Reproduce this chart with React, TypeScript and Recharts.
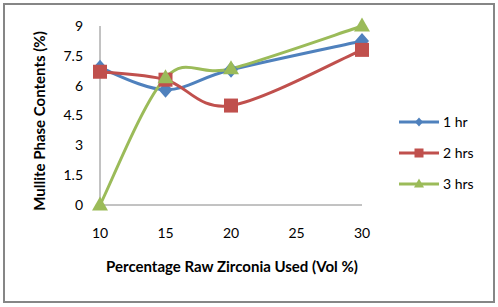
import React from 'react';
import { LineChart, Line, XAxis, YAxis } from 'recharts';

const xValues = [10, 15, 20, 30];
const hr1 = [6.9, 5.8, 6.8, 8.25];
const hrs2 = [6.7, 6.3, 5.0, 7.8];
const hrs3 = [0, 6.4, 6.85, 9.0];
const xTicks = [10, 15, 20, 25, 30];
const yTicks = [0, 1.5, 3, 4.5, 6, 7.5, 9];
const seriesNames = ['1 hr', '2 hrs', '3 hrs'];

const data = xValues.map((x, i) => ({ x, hr1: hr1[i], hrs2: hrs2[i], hrs3: hrs3[i] }));

const BLUE = '#4F81BD';
const RED = '#C0504D';
const GREEN = '#9BBB59';
const FONT = 'Lato, "Liberation Sans", sans-serif';

// Excel-like smoothed curve (Catmull-Rom bezier)
function smoothCurve(context: any) {
  let pts: number[][] = [];
  return {
    areaStart() {},
    areaEnd() {},
    lineStart() {
      pts = [];
    },
    point(x: number, y: number) {
      pts.push([+x, +y]);
    },
    lineEnd() {
      const n = pts.length;
      if (!n) return;
      context.moveTo(pts[0][0], pts[0][1]);
      for (let i = 0; i < n - 1; i++) {
        const p0 = pts[Math.max(0, i - 1)];
        const p1 = pts[i];
        const p2 = pts[i + 1];
        const p3 = pts[Math.min(n - 1, i + 2)];
        context.bezierCurveTo(
          p1[0] + (p2[0] - p0[0]) / 6,
          p1[1] + (p2[1] - p0[1]) / 6,
          p2[0] - (p3[0] - p1[0]) / 6,
          p2[1] - (p3[1] - p1[1]) / 6,
          p2[0],
          p2[1]
        );
      }
    },
  };
}

const Diamond = ({ cx, cy, color, w = 7, h = 8 }: any) => (
  <polygon points={`${cx},${cy - h} ${cx + w},${cy} ${cx},${cy + h} ${cx - w},${cy}`} fill={color} />
);
const Square = ({ cx, cy, color, s = 7 }: any) => (
  <rect x={cx - s} y={cy - s} width={2 * s} height={2 * s} fill={color} />
);
const Triangle = ({ cx, cy, color, w = 8, h = 14 }: any) => (
  <polygon points={`${cx},${cy - h * 0.6} ${cx + w},${cy + h * 0.4} ${cx - w},${cy + h * 0.4}`} fill={color} />
);

const dotDiamond = (p: any) => <Diamond key={`d${p.index}`} cx={p.cx} cy={p.cy} color={BLUE} />;
const dotSquare = (p: any) => <Square key={`s${p.index}`} cx={p.cx} cy={p.cy} color={RED} />;
const dotTriangle = (p: any) => <Triangle key={`t${p.index}`} cx={p.cx} cy={p.cy} color={GREEN} />;

const legendMarkers = [
  (c: string) => <Diamond cx={20} cy={7} color={c} w={4} h={4.5} />,
  (c: string) => <Square cx={20} cy={7} color={c} s={4.5} />,
  (c: string) => <Triangle cx={20} cy={7} color={c} w={5} h={9} />,
];
const legendColors = [BLUE, RED, GREEN];

const ChartLegend = () => (
  <div
    style={{
      position: 'absolute',
      left: 399,
      top: 106,
      width: 90,
      fontFamily: FONT,
      fontSize: 14,
      color: '#000',
    }}
  >
    {seriesNames.map((name, i) => (
      <div key={name} style={{ display: 'flex', alignItems: 'center', height: 31 }}>
        <svg width={44} height={14} style={{ display: 'block' }}>
          <line x1={0} y1={7} x2={40} y2={7} stroke={legendColors[i]} strokeWidth={3} />
          {legendMarkers[i](legendColors[i])}
        </svg>
        <span style={{ lineHeight: '14px' }}>{name}</span>
      </div>
    ))}
  </div>
);

const YTitle = () => (
  <text
    x={39}
    y={121}
    transform="rotate(-90 39 121)"
    textAnchor="middle"
    dominantBaseline="central"
    fontFamily={FONT}
    fontSize={15}
    fontWeight="bold"
    fill="#000"
  >
    Mullite Phase Contents (%)
  </text>
);

const XTitle = () => (
  <text x={232} y={272} textAnchor="middle" fontFamily={FONT} fontSize={15} fontWeight="bold" fill="#000">
    Percentage Raw Zirconia Used (Vol %)
  </text>
);

export default function App() {
  return (
    <div style={{ position: 'absolute', left: 0, top: 0, width: 498, height: 307, background: '#fff' }}>
      <div
        style={{
          position: 'absolute',
          left: 3,
          top: 3,
          width: 492,
          height: 300,
          border: '2px solid #868686',
          boxSizing: 'border-box',
        }}
      />
      <div style={{ position: 'absolute', left: 0, top: 0 }}>
        <LineChart width={498} height={307} data={data} margin={{ top: 26, right: 136, bottom: 72, left: 0 }}>
          <XAxis
            dataKey="x"
            type="number"
            domain={[10, 30]}
            ticks={xTicks}
            interval={0}
            height={30}
            axisLine={{ stroke: '#868686', strokeWidth: 1 }}
            tickLine={false}
            tickSize={0}
            tickMargin={23}
            tick={{ fill: '#000', fontSize: 14, fontFamily: FONT }}
            label={<XTitle />}
          />
          <YAxis
            type="number"
            domain={[0, 9]}
            ticks={yTicks}
            interval={0}
            width={100}
            axisLine={{ stroke: '#868686', strokeWidth: 1 }}
            tickLine={false}
            tickSize={0}
            tickMargin={17}
            tick={{ fill: '#000', fontSize: 14, fontFamily: FONT }}
            label={<YTitle />}
          />
          <Line
            dataKey="hr1"
            name={seriesNames[0]}
            stroke={BLUE}
            strokeWidth={3}
            type={smoothCurve as any}
            dot={dotDiamond}
            activeDot={false}
            isAnimationActive={false}
          />
          <Line
            dataKey="hrs2"
            name={seriesNames[1]}
            stroke={RED}
            strokeWidth={3}
            type={smoothCurve as any}
            dot={dotSquare}
            activeDot={false}
            isAnimationActive={false}
          />
          <Line
            dataKey="hrs3"
            name={seriesNames[2]}
            stroke={GREEN}
            strokeWidth={3}
            type={smoothCurve as any}
            dot={dotTriangle}
            activeDot={false}
            isAnimationActive={false}
          />
        </LineChart>
      </div>
      <ChartLegend />
    </div>
  );
}
